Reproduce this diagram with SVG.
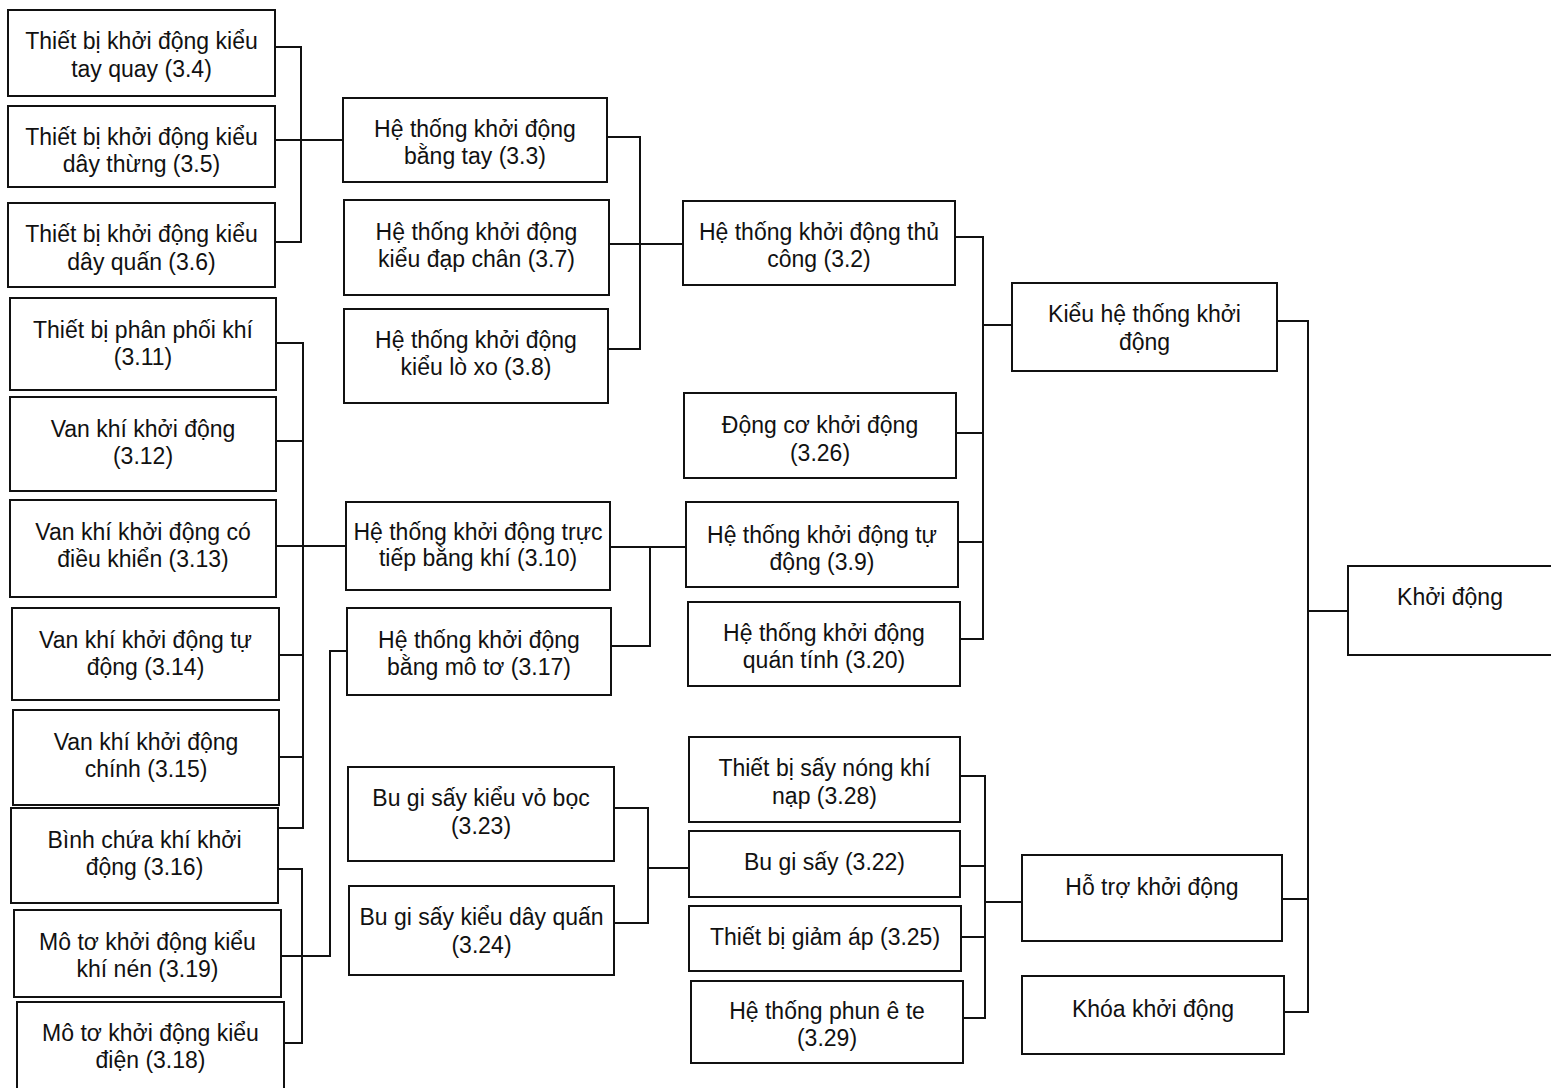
<svg xmlns="http://www.w3.org/2000/svg" width="1551" height="1088" viewBox="0 0 1551 1088">
<style>
.box{fill:#fff;stroke:#111;stroke-width:2}
.t{font-family:"Liberation Sans",Arial,sans-serif;font-size:23px;fill:#111;text-anchor:middle}
.c{fill:none;stroke:#111;stroke-width:2}
</style>
<rect width="1551" height="1088" fill="#fff"/>
<g id="connectors">
<path class="c" d="M275 47H301V242H275M275 140H343"/>
<path class="c" d="M276 343H303V828H278M276 441H303M276 546H346M279 655H303M279 757H303"/>
<path class="c" d="M278 869H302V1043H284M281 956H330V651H347"/>
<path class="c" d="M607 137H640V349H608M609 244H683"/>
<path class="c" d="M610 547H686M650 547V646H611"/>
<path class="c" d="M614 808H648V923H614M648 868H689"/>
<path class="c" d="M955 237H983V639H960M956 433H983M958 542H983M983 325H1012"/>
<path class="c" d="M960 776H985V1018H963M960 866H985M961 937H985M985 902H1022"/>
<path class="c" d="M1277 321H1308V1012H1284M1282 899H1308M1308 611H1348"/>
</g>
<g id="n34"><rect class="box" x="8" y="10" width="267" height="86"/><text class="t" x="141.5" y="49">Thiết bị khởi động kiểu</text><text class="t" x="141.5" y="77">tay quay (3.4)</text></g>
<g id="n35"><rect class="box" x="8" y="106" width="267" height="81"/><text class="t" x="141.5" y="145">Thiết bị khởi động kiểu</text><text class="t" x="141.5" y="172">dây thừng (3.5)</text></g>
<g id="n36"><rect class="box" x="8" y="203" width="267" height="84"/><text class="t" x="141.5" y="242">Thiết bị khởi động kiểu</text><text class="t" x="141.5" y="270">dây quấn (3.6)</text></g>
<g id="n311"><rect class="box" x="10" y="298" width="266" height="92"/><text class="t" x="143" y="338">Thiết bị phân phối khí</text><text class="t" x="143" y="365">(3.11)</text></g>
<g id="n312"><rect class="box" x="10" y="397" width="266" height="94"/><text class="t" x="143" y="437">Van khí khởi động</text><text class="t" x="143" y="464">(3.12)</text></g>
<g id="n313"><rect class="box" x="10" y="500" width="266" height="97"/><text class="t" x="143" y="540">Van khí khởi động có</text><text class="t" x="143" y="567">điều khiển (3.13)</text></g>
<g id="n314"><rect class="box" x="12" y="608" width="267" height="92"/><text class="t" x="145.5" y="648">Van khí khởi động tự</text><text class="t" x="145.5" y="675">động (3.14)</text></g>
<g id="n315"><rect class="box" x="13" y="710" width="266" height="95"/><text class="t" x="146" y="750">Van khí khởi động</text><text class="t" x="146" y="777">chính (3.15)</text></g>
<g id="n316"><rect class="box" x="11" y="808" width="267" height="95"/><text class="t" x="144.5" y="848">Bình chứa khí khởi</text><text class="t" x="144.5" y="875">động (3.16)</text></g>
<g id="n319"><rect class="box" x="14" y="910" width="267" height="87"/><text class="t" x="147.5" y="950">Mô tơ khởi động kiểu</text><text class="t" x="147.5" y="977">khí nén (3.19)</text></g>
<g id="n318"><rect class="box" x="17" y="1002" width="267" height="92"/><text class="t" x="150.5" y="1041">Mô tơ khởi động kiểu</text><text class="t" x="150.5" y="1068">điện (3.18)</text></g>
<g id="n33"><rect class="box" x="343" y="98" width="264" height="84"/><text class="t" x="475" y="137">Hệ thống khởi động</text><text class="t" x="475" y="164">bằng tay (3.3)</text></g>
<g id="n37"><rect class="box" x="344" y="200" width="265" height="95"/><text class="t" x="476.5" y="240">Hệ thống khởi động</text><text class="t" x="476.5" y="267">kiểu đạp chân (3.7)</text></g>
<g id="n38"><rect class="box" x="344" y="309" width="264" height="94"/><text class="t" x="476" y="348">Hệ thống khởi động</text><text class="t" x="476" y="375">kiểu lò xo (3.8)</text></g>
<g id="n310"><rect class="box" x="346" y="502" width="264" height="88"/><text class="t" x="478" y="540">Hệ thống khởi động trực</text><text class="t" x="478" y="566">tiếp bằng khí (3.10)</text></g>
<g id="n317"><rect class="box" x="347" y="608" width="264" height="87"/><text class="t" x="479" y="648">Hệ thống khởi động</text><text class="t" x="479" y="675">bằng mô tơ (3.17)</text></g>
<g id="n323"><rect class="box" x="348" y="767" width="266" height="94"/><text class="t" x="481" y="806">Bu gi sấy kiểu vỏ bọc</text><text class="t" x="481" y="834">(3.23)</text></g>
<g id="n324"><rect class="box" x="349" y="886" width="265" height="89"/><text class="t" x="481.5" y="925">Bu gi sấy kiểu dây quấn</text><text class="t" x="481.5" y="953">(3.24)</text></g>
<g id="n32"><rect class="box" x="683" y="201" width="272" height="84"/><text class="t" x="819" y="240">Hệ thống khởi động thủ</text><text class="t" x="819" y="267">công (3.2)</text></g>
<g id="n326"><rect class="box" x="684" y="393" width="272" height="85"/><text class="t" x="820" y="433">Động cơ khởi động</text><text class="t" x="820" y="461">(3.26)</text></g>
<g id="n39"><rect class="box" x="686" y="502" width="272" height="85"/><text class="t" x="822" y="543">Hệ thống khởi động tự</text><text class="t" x="822" y="570">động (3.9)</text></g>
<g id="n320"><rect class="box" x="688" y="602" width="272" height="84"/><text class="t" x="824" y="641">Hệ thống khởi động</text><text class="t" x="824" y="668">quán tính (3.20)</text></g>
<g id="n328"><rect class="box" x="689" y="737" width="271" height="85"/><text class="t" x="824.5" y="776">Thiết bị sấy nóng khí</text><text class="t" x="824.5" y="804">nạp (3.28)</text></g>
<g id="n322"><rect class="box" x="689" y="831" width="271" height="66"/><text class="t" x="824.5" y="870">Bu gi sấy (3.22)</text></g>
<g id="n325"><rect class="box" x="689" y="906" width="272" height="65"/><text class="t" x="825" y="945">Thiết bị giảm áp (3.25)</text></g>
<g id="n329"><rect class="box" x="691" y="981" width="272" height="82"/><text class="t" x="827" y="1019">Hệ thống phun ê te</text><text class="t" x="827" y="1046">(3.29)</text></g>
<g id="nKieu"><rect class="box" x="1012" y="283" width="265" height="88"/><text class="t" x="1144.5" y="322">Kiểu hệ thống khởi</text><text class="t" x="1144.5" y="350">động</text></g>
<g id="nKhoiDong"><rect class="box" x="1348" y="566" width="215" height="89"/><text class="t" x="1450" y="605">Khởi động</text></g>
<g id="nHoTro"><rect class="box" x="1022" y="855" width="260" height="86"/><text class="t" x="1152" y="895">Hỗ trợ khởi động</text></g>
<g id="nKhoa"><rect class="box" x="1022" y="976" width="262" height="78"/><text class="t" x="1153" y="1017">Khóa khởi động</text></g>
</svg>
